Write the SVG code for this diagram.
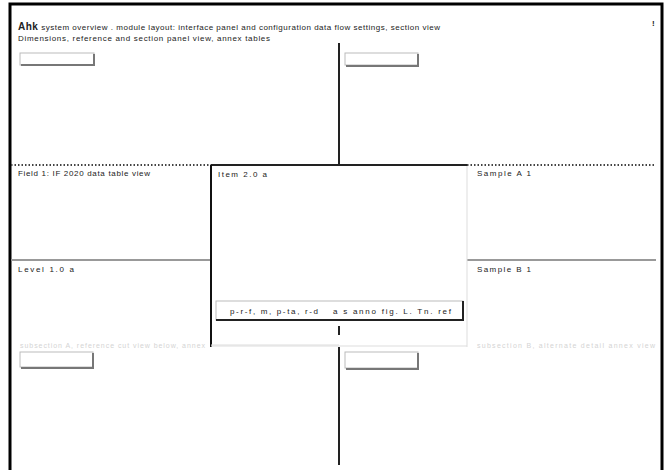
<svg xmlns="http://www.w3.org/2000/svg" width="667" height="470" viewBox="0 0 667 470">
<style>
text{font-family:"Liberation Sans",Arial,sans-serif;fill:#222;font-size:8px}
.faint{fill:#d4d4d4;font-size:7px}
.btn{fill:#fff;stroke:#bbb;stroke-width:1}
.btnsh{fill:none;stroke:#777;stroke-width:2}
.dot{stroke:#444;stroke-width:2;stroke-dasharray:1.5 2;fill:none}
.solid{stroke:#222;stroke-width:2;fill:none}
.gray{stroke:#999;stroke-width:2;fill:none}
.light{stroke:#ddd;stroke-width:1;fill:none}
</style>
<rect x="0" y="0" width="667" height="470" fill="#fff"/>
<path d="M10,472 V4 H662 V472" fill="none" stroke="#000" stroke-width="3"/>
<g id="title">
<text x="18" y="30" textLength="422" lengthAdjust="spacing"><tspan font-weight="bold" font-size="10">Ahk</tspan> system overview . module layout: interface panel and configuration data flow settings, section view</text>
<text x="18" y="41" textLength="252" lengthAdjust="spacing">Dimensions, reference and section panel view, annex tables</text>
<text x="652" y="26" font-weight="bold">!</text>
</g>
<g id="connectors">
<line class="solid" x1="339" y1="43" x2="339" y2="165"/>
<line class="dot" x1="11" y1="165" x2="211" y2="165"/>
<line class="solid" x1="211" y1="165" x2="467" y2="165"/>
<line class="dot" x1="467" y1="165" x2="656" y2="165"/>
<line class="solid" x1="339" y1="326" x2="339" y2="335"/>
<line class="solid" x1="339" y1="347" x2="339" y2="465"/>
<line class="gray" x1="11" y1="260" x2="211" y2="260"/>
<line class="gray" x1="467" y1="260" x2="656" y2="260"/>
</g>
<g id="btn-tl"><rect class="btn" x="20" y="53" width="74" height="12"/><path class="btnsh" d="M21,65 H94 V54"/></g>
<g id="btn-tr"><rect class="btn" x="345" y="53" width="73" height="12"/><path class="btnsh" d="M346,66 H418 V54"/></g>
<g id="btn-bl"><rect class="btn" x="20" y="352" width="73" height="15"/><path class="btnsh" d="M21,368 H93 V353"/></g>
<g id="btn-br"><rect class="btn" x="345" y="352" width="73" height="16"/><path class="btnsh" d="M346,369 H418 V353"/></g>
<g id="panel-left-top"><text x="18" y="176" textLength="132" lengthAdjust="spacing">Field 1: IF 2020 data table view</text></g>
<g id="panel-left-bottom"><text x="18" y="272" textLength="56" lengthAdjust="spacing">Level 1.0 a</text></g>
<g id="panel-right-top"><text x="477" y="176" textLength="54" lengthAdjust="spacing">Sample A 1</text></g>
<g id="panel-right-bottom"><text x="477" y="272" textLength="54" lengthAdjust="spacing">Sample B 1</text></g>
<g id="center">
<line x1="211" y1="165" x2="211" y2="347" stroke="#111" stroke-width="2"/>
<line class="light" x1="467" y1="166" x2="467" y2="347"/>
<line class="light" x1="211" y1="346" x2="467" y2="346"/>
<text x="218" y="177" textLength="49" lengthAdjust="spacing">Item 2.0 a</text>
<g id="center-bar">
<rect x="216" y="301" width="247" height="19" fill="#fff" stroke="#bbb"/>
<path d="M216,320 H463 V301" fill="none" stroke="#222" stroke-width="2"/>
<text x="230" y="314" textLength="88" lengthAdjust="spacing">p-r-f, m, p-ta, r-d</text>
<text x="333" y="314" textLength="118" lengthAdjust="spacing">a  s  anno fig. L. Tn. ref</text>
</g>
</g>
<g id="faint-labels">
<text class="faint" x="20" y="348" textLength="185" lengthAdjust="spacing">subsection A, reference cut view below, annex</text>
<line class="light" x1="211" y1="345" x2="339" y2="345"/>
<text class="faint" x="477" y="348" textLength="178" lengthAdjust="spacing">subsection B, alternate detail annex view</text>
</g>
</svg>
